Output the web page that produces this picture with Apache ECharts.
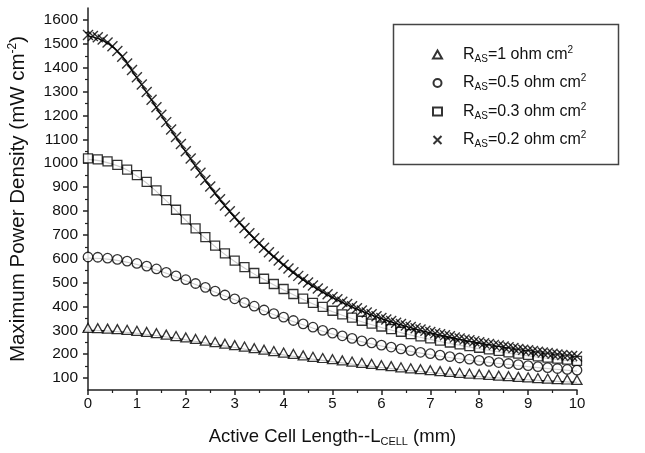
<!DOCTYPE html>
<html><head><meta charset="utf-8">
<script src="https://cdn.jsdelivr.net/npm/echarts@6/dist/echarts.min.js"></script>
<style>html,body{margin:0;padding:0;background:#fff}#c{width:645px;height:453px}</style>
</head><body><div id="c"></div>
<script>
// Marker series (x step 0.2 for triangles/circles/squares, 0.1 for crosses)
const ras1 = [310,309,307,305,302,298,293,288,282,276,270,264,257,251,244,238,232,225,219,213,207,201,195,189,184,179,174,169,164,159,154,150,145,141,137,133,129,126,122,119,116,113,110,108,105,103,100,98,96,94,92];
const ras05 = [607,606,602,597,590,580,569,557,543,528,512,496,480,464,448,432,416,401,385,370,355,341,327,313,300,288,277,266,256,247,238,230,222,215,208,202,196,190,184,179,174,170,165,161,156,152,148,144,140,136,133];
const ras03 = [1020,1016,1008,993,973,950,922,886,845,805,765,727,690,655,622,592,565,540,516,494,473,452,433,415,398,382,367,353,340,328,316,305,294,284,275,266,257,249,241,234,227,220,214,208,202,197,191,186,181,177,172];
const ras02 = [1537,1533,1527,1518,1505,1490,1470,1446,1418,1390,1360,1330,1298,1266,1234,1203,1172,1141,1110,1080,1050,1020,990,960,930,902,875,849,823,799,775,752,729,707,686,665,646,627,609,592,575,559,543,528,514,500,488,475,463,451,440,430,420,410,401,392,383,375,367,359,352,345,339,332,326,320,314,309,303,298,293,288,284,279,275,270,266,262,258,254,250,246,243,239,236,232,229,226,222,219,216,213,210,207,205,202,199,197,194,192,190];
// Model lines (x step 0.5)
const line1 = [300,296,288,275,260,244,228,212,197,182,169,156,144,133,123,114,106,99,93,87,82];
const line05 = [603,596,576,546,508,468,428,389,351,316,284,257,234,215,198,183,170,159,148,138,129];
const line03 = [1016,996,946,862,761,668,588,524,469,420,378,342,312,285,262,241,223,207,193,180,168];
const line02 = [1534,1487,1357,1200,1047,899,772,662,572,497,437,389,349,317,290,267,247,229,213,199,187];
const names = ['R{s|AS}=1 ohm cm{p|2}','R{s|AS}=0.5 ohm cm{p|2}','R{s|AS}=0.3 ohm cm{p|2}','R{s|AS}=0.2 ohm cm{p|2}'];
const seriesNames = ['r1','r05','r03','r02'];
const yMajor = [100,200,300,400,500,600,700,800,900,1000,1100,1200,1300,1400,1500,1600];
const yMinor = [150,250,350,450,550,650,750,850,950,1050,1150,1250,1350,1450,1550];

function pts(arr, step){ return arr.map((v,i)=>[Math.round(i*step*100)/100, v]); }
const FONT = 'Liberation Sans, Arial, sans-serif';
const mk = {color:'#fff', borderColor:'#000', borderWidth:1.3};
const crossPath = 'path://M0,0L10,10M10,0L0,10';

const chart = echarts.init(document.getElementById('c'), null, {renderer:'canvas'});
function lineSeries(arr){
  return {type:'line', data: pts(arr,0.5), smooth:true, showSymbol:false, silent:true,
    lineStyle:{color:'#000', width:1.1}, z:1};
}
function scatter(name, arr, step, symbol, size){
  return {type:'scatter', name, data: pts(arr,step), symbol, symbolSize:size, symbolKeepAspect:true,
    itemStyle: Object.assign({}, mk, symbol===crossPath?{color:'none', borderWidth:1.4}:{}), z:3};
}
const rich = {s:{fontSize:10, padding:[9,0,0,0], fontFamily:FONT, color:'#111'},
              p:{fontSize:10, padding:[0,0,9,0], fontFamily:FONT, color:'#111'},
              sp:{width:16}};
chart.setOption({
  animation:false,
  backgroundColor:'#fff',
  grid:{left:88, right:68, top:8, bottom:63, containLabel:false, outerBoundsMode:'none'},
  graphic:[{type:'rect', left:391, top:22, shape:{width:225, height:140}, style:{fill:'none', stroke:'#444', lineWidth:1.5}, z:10}],
  legend:{
    data: seriesNames, orient:'vertical', left:426, top:40, itemWidth:9, itemHeight:8, itemGap:9.5,
    formatter: n => '{sp| }' + names[seriesNames.indexOf(n)],
    textStyle:{fontSize:16, fontFamily:FONT, color:'#111', rich}
  },
  xAxis:{type:'value', min:0, max:10, interval:1,
    name:'Active Cell Length--L{s|CELL} (mm)', nameLocation:'middle', nameGap:37,
    nameTextStyle:{fontSize:18.5, fontFamily:FONT, color:'#111', rich:{s:{fontSize:11, padding:[9,0,0,0], fontFamily:FONT, color:'#111'}}},
    axisLine:{lineStyle:{color:'#222', width:1.5}},
    axisTick:{length:5, lineStyle:{color:'#222', width:1.5}},
    minorTick:{show:true, splitNumber:2, length:3, lineStyle:{color:'#222', width:1.2}},
    splitLine:{show:false},
    axisLabel:{fontSize:15, fontFamily:FONT, color:'#111', margin:6}
  },
  yAxis:[{type:'value', min:50, max:1650, position:'left',
    name:'Maximum Power Density (mW cm{p|-2})', nameLocation:'middle', nameGap:59,
    nameTextStyle:{fontSize:20.5, fontFamily:FONT, color:'#111', rich:{p:{fontSize:12, padding:[0,0,10,0], fontFamily:FONT, color:'#111'}}},
    axisLine:{show:true, lineStyle:{color:'#222', width:1.5}},
    axisTick:{show:true, length:5, customValues:yMajor, lineStyle:{color:'#222', width:1.5}},
    axisLabel:{customValues:yMajor, formatter: v => String(v), fontSize:15.5, fontFamily:FONT, color:'#111', margin:10},
    splitLine:{show:false}
  },{type:'value', min:50, max:1650, position:'left', offset:0,
    axisLine:{show:false}, axisLabel:{show:false}, splitLine:{show:false},
    axisTick:{show:true, length:3, customValues:yMinor, lineStyle:{color:'#222', width:1.2}}
  }],
  series:[
    lineSeries(line1), lineSeries(line05), lineSeries(line03), lineSeries(line02),
    scatter('r1', ras1, 0.2, 'triangle', [10,9]),
    scatter('r05', ras05, 0.2, 'circle', 9.5),
    scatter('r03', ras03, 0.2, 'rect', 9),
    scatter('r02', ras02, 0.1, crossPath, 10)
  ]
});
</script></body></html>
